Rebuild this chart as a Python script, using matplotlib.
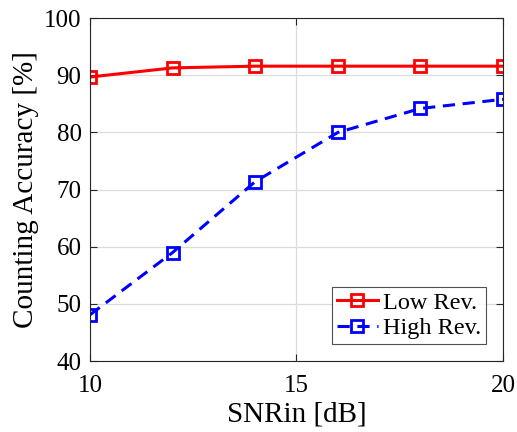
import matplotlib
matplotlib.use('Agg')
import matplotlib.pyplot as plt
import numpy as np

# data
snr_in = [10, 12, 14, 16, 18, 20]
low_rev = [89.7, 91.3, 91.6, 91.6, 91.6, 91.6]
high_rev = [48.1, 59.0, 71.4, 80.0, 84.2, 85.8]

plt.rcParams['font.family'] = ['Liberation Serif', 'DejaVu Serif']
plt.rcParams['mathtext.fontset'] = 'stix'

fig = plt.figure(figsize=(5.17, 4.32), dpi=100)
ax = fig.add_axes([0.174, 0.164, 0.799, 0.794])

ax.plot(snr_in, low_rev, '-s', color='#ff0000', lw=2.2, ms=8,
        mfc='none', mew=2, label='Low Rev.')
ax.plot(snr_in, high_rev, '--s', color='#0000ff', lw=2.2, ms=8,
        mfc='none', mew=2, dashes=(4, 2.5), label='High Rev.')

ax.set_xlim(10, 20)
ax.set_ylim(40, 100)
ax.set_xticks([10, 15, 20])
ax.set_yticks(np.arange(40, 101, 10))
ax.grid(True, color='#dcdcdc', lw=0.9)
ax.set_axisbelow(True)

for s in ax.spines.values():
    s.set_color('#262626')
    s.set_linewidth(0.8)
ax.tick_params(direction='in', top=True, right=True, length=5,
               width=0.8, color='#262626', labelsize=18)
ax.tick_params(axis='y', pad=6)
ax.tick_params(axis='x', pad=10)

ax.set_xlabel('SNRin [dB]', fontsize=21, labelpad=3)
ax.set_ylabel('Counting Accuracy [%]', fontsize=21, labelpad=4)

leg = ax.legend(loc='lower right', fontsize=17.5, frameon=True, fancybox=False,
                handlelength=1.7, handletextpad=0.2, borderpad=0.2,
                labelspacing=0.15, borderaxespad=0.7)
leg.get_frame().set_edgecolor('#262626')
leg.get_frame().set_linewidth(0.8)

plt.savefig('out.png', dpi=100)
